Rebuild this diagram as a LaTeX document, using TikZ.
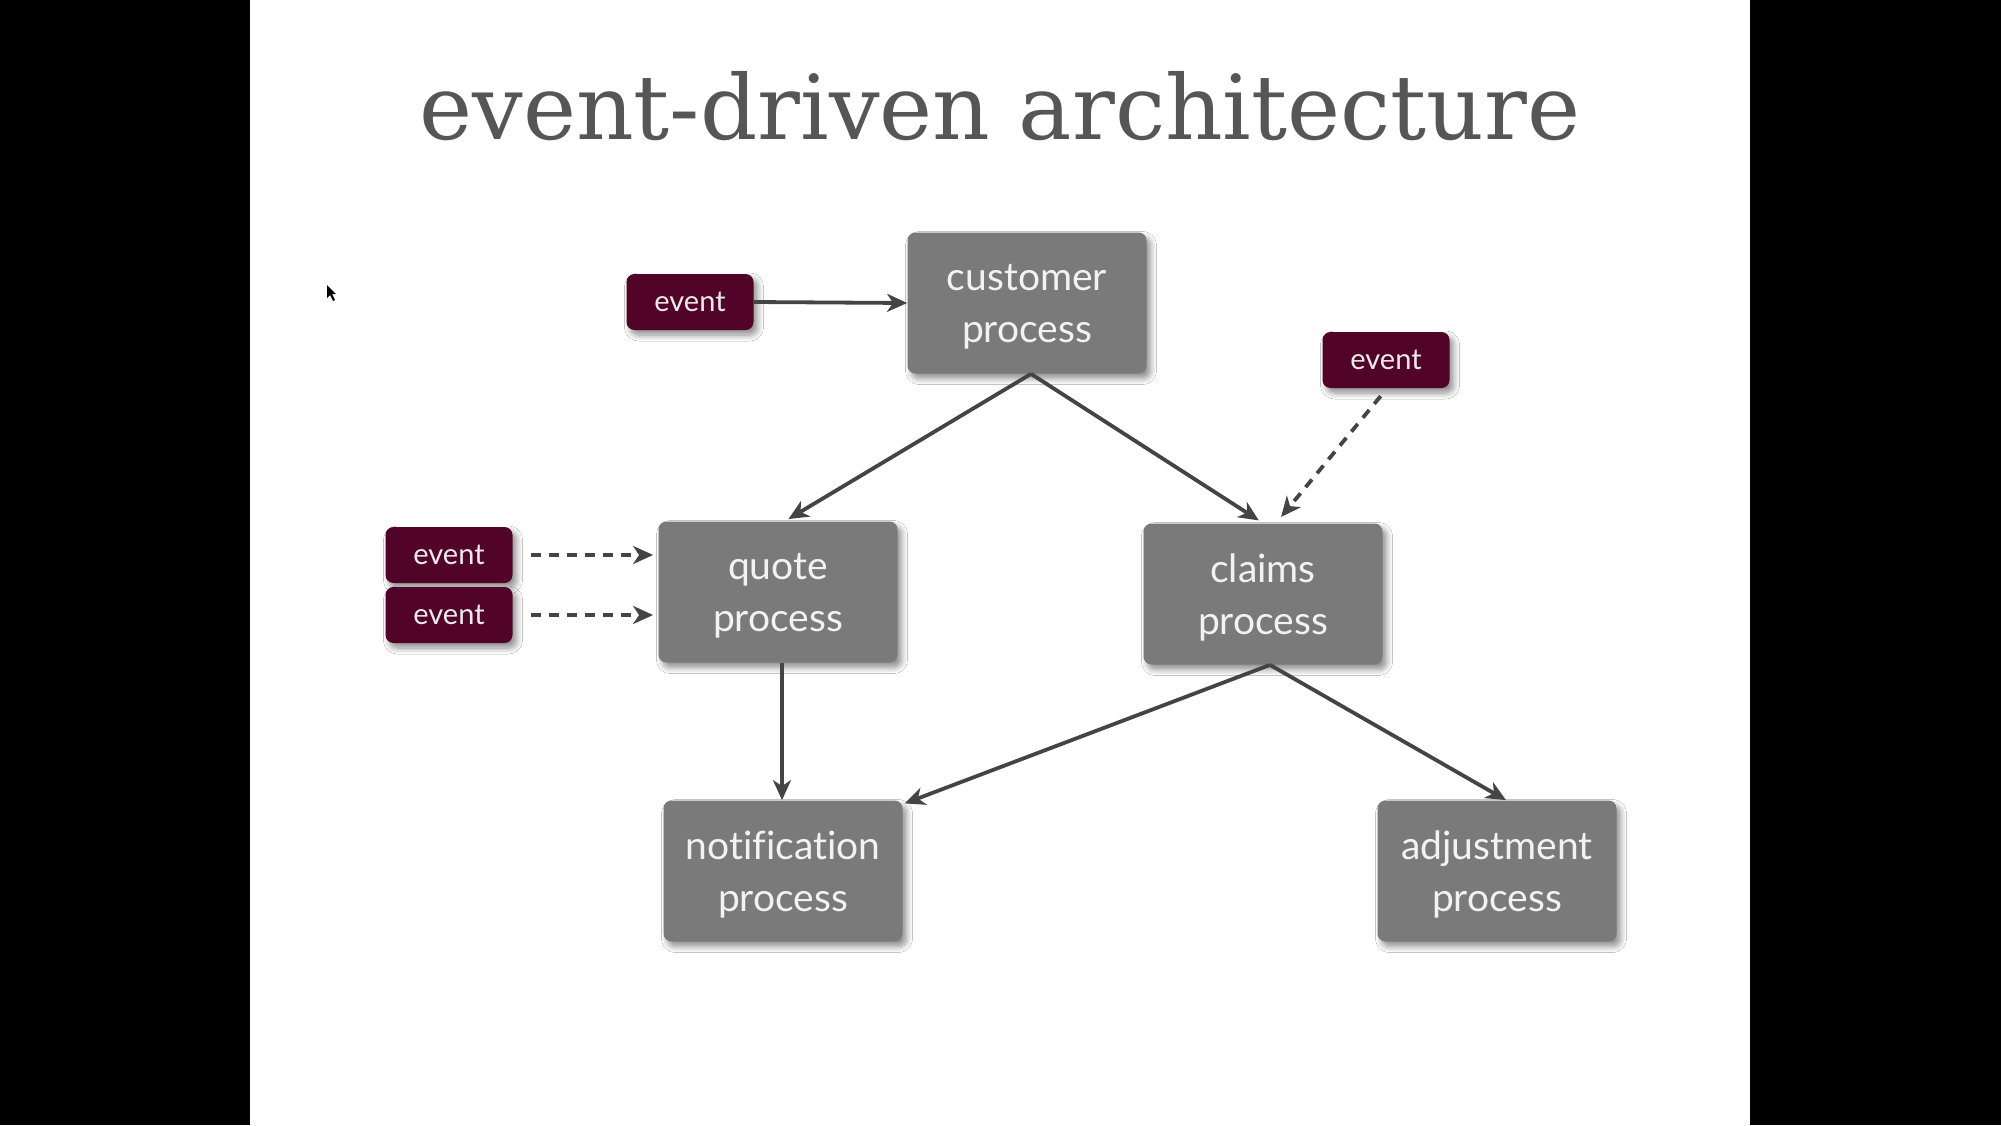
\documentclass[tikz,border=0pt]{standalone}
\usepackage{fontspec}
\setmainfont{Lato}[Ligatures=NoCommon]
\newfontfamily\titlefont{DejaVu Serif}
\usetikzlibrary{shadows.blur,arrows.meta}
\definecolor{boxgray}{HTML}{7A7A7A}
\definecolor{evmaroon}{HTML}{520428}
\definecolor{arrowgray}{HTML}{444444}
\definecolor{titlegray}{HTML}{565656}
\begin{document}
\begin{tikzpicture}[x=0.5pt,y=-0.5pt,
  procbox/.style={fill=boxgray, rounded corners=4pt, minimum width=119.5pt, minimum height=70.5pt,
    text=white!95!black, align=center, font=\fontsize{19.5}{26}\selectfont, inner sep=0pt,
    text depth=0pt,
    blur shadow={shadow blur steps=8, shadow xshift=2pt, shadow yshift=-2.5pt, shadow opacity=45, shadow blur radius=3pt}},
  evbox/.style={fill=evmaroon, rounded corners=4pt, minimum width=63.5pt, minimum height=28pt,
    text=white!92!black, font=\fontsize{14.5}{17}\selectfont, inner sep=0pt,
    blur shadow={shadow blur steps=8, shadow xshift=2pt, shadow yshift=-2.5pt, shadow opacity=45, shadow blur radius=3pt}},
  conn/.style={draw=arrowgray, line width=1.9pt, -{Stealth[length=10pt,width=9pt,inset=3pt]}},
  dconn/.style={conn, dash pattern=on 5pt off 4pt}
]
\useasboundingbox (0,0) rectangle (2001,1125);
\fill[black] (0,0) rectangle (2001,1125);
\fill[white] (250,0) rectangle (1750,1125);
% cursor
\fill[black] (327,285) -- (327,298) -- (330,295) -- (333,301) -- (335,300) -- (332,294) -- (336,294) -- cycle;

\node[text=titlegray, font=\titlefont\fontsize{44.8}{50}\selectfont] (title) at (1000,106) {event-driven architecture};

\node[procbox] (cust) at (1027,303) {customer\\process};
\node[procbox] (quote) at (778,592) {quote\\process};
\node[procbox] (claims) at (1263,594) {claims\\process};
\node[procbox] (notif) at (783,871) {notification\\process};
\node[procbox] (adjust) at (1497,871) {adjustment\\process};

\node[evbox] (ev1) at (690,302) {event};
\node[evbox] (ev2) at (1386,360) {event};
\node[evbox] (ev3) at (449,555) {event};
\node[evbox] (ev4) at (449,615) {event};

\draw[conn] (ev1.east) -- (cust.west);
\draw[conn, shorten >=2pt] ([xshift=2pt]cust.south) -- ([xshift=3.5pt]quote.north);
\draw[conn, shorten >=2.5pt] ([xshift=2pt]cust.south) -- (claims.north);
\draw[dconn, shorten <=5pt, shorten >=4pt] ([xshift=0.5pt]ev2.south) -- ([xshift=6.5pt]claims.north);
\draw[dconn, shorten <=9pt, shorten >=2.5pt] (ev3.east) -- (ev3.east -| quote.west);
\draw[dconn, shorten <=9pt, shorten >=2.5pt] (ev4.east) -- (ev4.east -| quote.west);
\draw[conn] ([xshift=2pt]quote.south) -- ([xshift=2pt]quote.south |- notif.north);
\draw[conn, shorten >=1pt] ([xshift=3.5pt]claims.south) -- ([yshift=-2pt]notif.north east);
\draw[conn] ([xshift=3.5pt]claims.south) -- ([xshift=4.5pt]adjust.north);
\end{tikzpicture}
\end{document}
